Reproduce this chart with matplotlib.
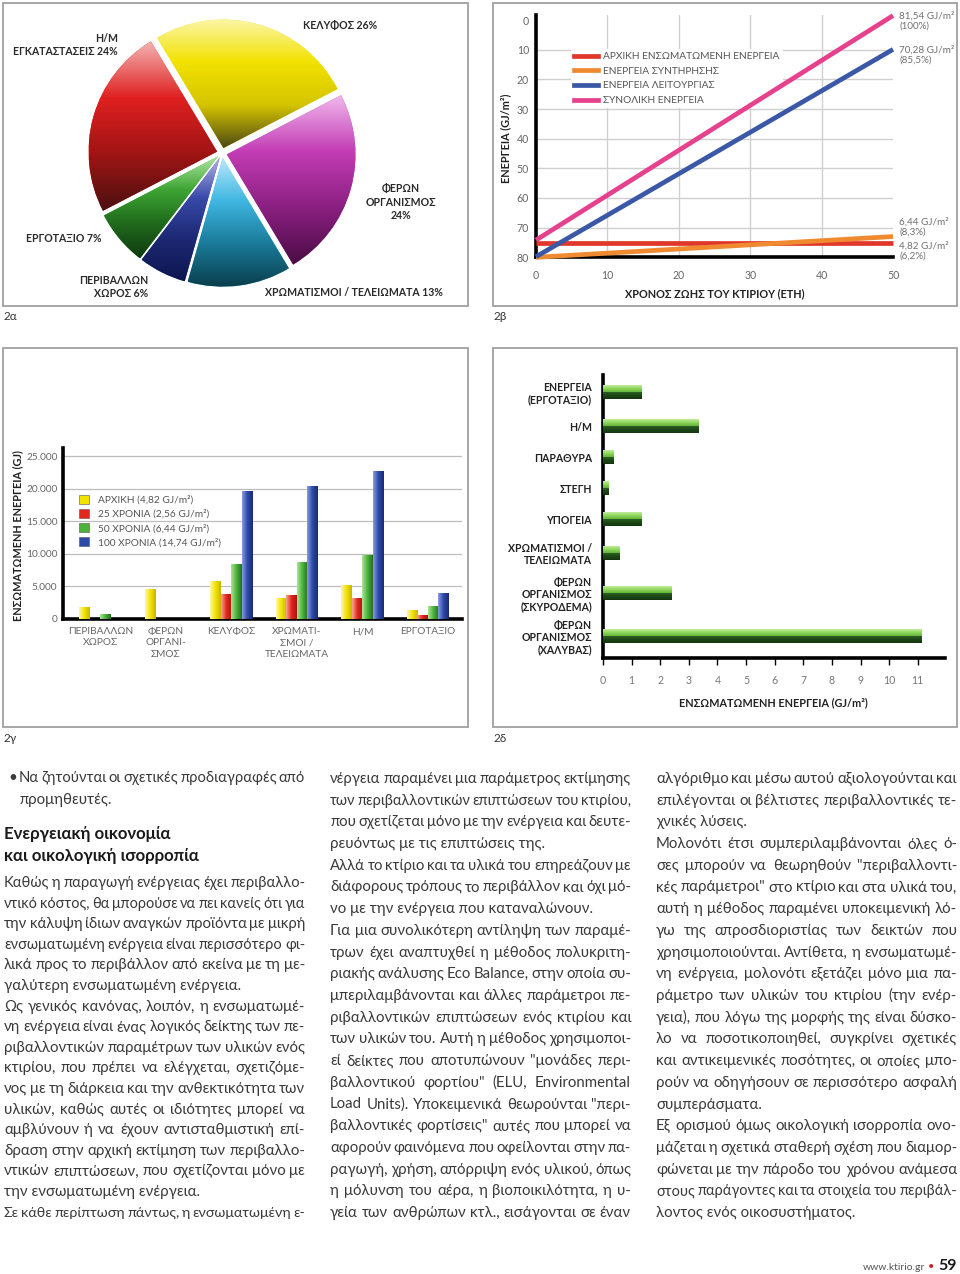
import numpy as np
import matplotlib
matplotlib.use('Agg')
import matplotlib.pyplot as plt
from matplotlib.colors import LinearSegmentedColormap
from matplotlib.patches import Rectangle, Patch
from matplotlib.lines import Line2D

FONTS = ['Lato', 'Noto Sans', 'DejaVu Sans']
plt.rcParams['font.family'] = FONTS
plt.rcParams['axes.unicode_minus'] = False

# ---------------- data ----------------
# 2α pie
pie_labels = ['ΚΕΛΥΦΟΣ 26%', 'ΦΕΡΩΝ\nΟΡΓΑΝΙΣΜΟΣ\n24%', 'ΧΡΩΜΑΤΙΣΜΟΙ / ΤΕΛΕΙΩΜΑΤΑ 13%',
              'ΠΕΡΙΒΑΛΛΩΝ\nΧΩΡΟΣ 6%', 'ΕΡΓΟΤΑΞΙΟ 7%', 'Η/Μ\nΕΓΚΑΤΑΣΤΑΣΕΙΣ 24%']
pie_values = [26, 24, 13, 6, 7, 24]

# 2β lines
years = [0, 50]
line_initial = [75.3, 75.3]
line_maint = [80.0, 73.0]
line_oper = [79.8, 9.9]
line_total = [74.2, -1.5]
line_names = ['ΑΡΧΙΚΗ ΕΝΣΩΜΑΤΩΜΕΝΗ ΕΝΕΡΓΕΙΑ', 'ΕΝΕΡΓΕΙΑ ΣΥΝΤΗΡΗΣΗΣ',
              'ΕΝΕΡΓΕΙΑ ΛΕΙΤΟΥΡΓΙΑΣ', 'ΣΥΝΟΛΙΚΗ ΕΝΕΡΓΕΙΑ']
end_labels = ['81,54 GJ/m²\n(100%)', '70,28 GJ/m²\n(85,5%)', '6,44 GJ/m²\n(8,3%)', '4,82 GJ/m²\n(6,2%)']

# 2γ grouped bars
cats_g = ['ΠΕΡΙΒΑΛΛΩΝ\nΧΩΡΟΣ', 'ΦΕΡΩΝ\nΟΡΓΑΝΙ-\nΣΜΟΣ', 'ΚΕΛΥΦΟΣ', 'ΧΡΩΜΑΤΙ-\nΣΜΟΙ /\nΤΕΛΕΙΩΜΑΤΑ',
          'Η/Μ', 'ΕΡΓΟΤΑΞΙΟ']
g_initial = [1800, 4600, 5900, 3200, 5150, 1370]
g_25 = [0, 0, 3870, 3670, 3260, 660]
g_50 = [760, 0, 8450, 8800, 9830, 1990]
g_100 = [0, 0, 19650, 20400, 22660, 3920]
g_names = ['ΑΡΧΙΚΗ (4,82 GJ/m²)', '25 ΧΡΟΝΙΑ (2,56 GJ/m²)', '50 ΧΡΟΝΙΑ (6,44 GJ/m²)',
           '100 ΧΡΟΝΙΑ (14,74 GJ/m²)']
g_ticks = [0, 5000, 10000, 15000, 20000, 25000]

# 2δ horizontal bars
cats_d = ['ΕΝΕΡΓΕΙΑ\n(ΕΡΓΟΤΑΞΙΟ)', 'Η/Μ', 'ΠΑΡΑΘΥΡΑ', 'ΣΤΕΓΗ', 'ΥΠΟΓΕΙΑ',
          'ΧΡΩΜΑΤΙΣΜΟΙ /\nΤΕΛΕΙΩΜΑΤΑ', 'ΦΕΡΩΝ\nΟΡΓΑΝΙΣΜΟΣ\n(ΣΚΥΡΟΔΕΜΑ)',
          'ΦΕΡΩΝ\nΟΡΓΑΝΙΣΜΟΣ\n(ΧΑΛΥΒΑΣ)']
vals_d = [1.34, 3.32, 0.37, 0.19, 1.34, 0.56, 2.41, 11.13]

# body text
bullet_lines = ['Να ζητούνται οι σχετικές προδιαγραφές από', 'προμηθευτές.']
heading_lines = ['Ενεργειακή οικονομία', 'και οικολογική ισορροπία']
col1 = [
    ('Καθώς η παραγωγή ενέργειας έχει περιβαλλο-', True),
    ('ντικό κόστος, θα μπορούσε να πει κανείς ότι για', True),
    ('την κάλυψη ίδιων αναγκών προϊόντα με μικρή', True),
    ('ενσωματωμένη ενέργεια είναι περισσότερο φι-', True),
    ('λικά προς το περιβάλλον από εκείνα με τη με-', True),
    ('γαλύτερη ενσωματωμένη ενέργεια.', False),
    ('Ως γενικός κανόνας, λοιπόν, η ενσωματωμέ-', True),
    ('νη ενέργεια είναι ένας λογικός δείκτης των πε-', True),
    ('ριβαλλοντικών παραμέτρων των υλικών ενός', True),
    ('κτιρίου, που πρέπει να ελέγχεται, σχετιζόμε-', True),
    ('νος με τη διάρκεια και την ανθεκτικότητα των', True),
    ('υλικών, καθώς αυτές οι ιδιότητες μπορεί να', True),
    ('αμβλύνουν ή να έχουν αντισταθμιστική επί-', True),
    ('δραση στην αρχική εκτίμηση των περιβαλλο-', True),
    ('ντικών επιπτώσεων, που σχετίζονται μόνο με', True),
    ('την ενσωματωμένη ενέργεια.', False),
    ('Σε κάθε περίπτωση πάντως, η ενσωματωμένη ε-', True),
]
col2 = [
    ('νέργεια παραμένει μια παράμετρος εκτίμησης', True),
    ('των περιβαλλοντικών επιπτώσεων του κτιρίου,', True),
    ('που σχετίζεται μόνο με την ενέργεια και δευτε-', True),
    ('ρευόντως με τις επιπτώσεις της.', False),
    ('Αλλά το κτίριο και τα υλικά του επηρεάζουν με', True),
    ('διάφορους τρόπους το περιβάλλον και όχι μό-', True),
    ('νο με την ενέργεια που καταναλώνουν.', False),
    ('Για μια συνολικότερη αντίληψη των παραμέ-', True),
    ('τρων έχει αναπτυχθεί η μέθοδος πολυκριτη-', True),
    ('ριακής ανάλυσης Eco Balance, στην οποία συ-', True),
    ('μπεριλαμβάνονται και άλλες παράμετροι πε-', True),
    ('ριβαλλοντικών επιπτώσεων ενός κτιρίου και', True),
    ('των υλικών του. Αυτή η μέθοδος χρησιμοποι-', True),
    ('εί δείκτες που αποτυπώνουν "μονάδες περι-', True),
    ('βαλλοντικού φορτίου" (ELU, Environmental', True),
    ('Load Units). Υποκειμενικά θεωρούνται "περι-', True),
    ('βαλλοντικές φορτίσεις" αυτές που μπορεί να', True),
    ('αφορούν φαινόμενα που οφείλονται στην πα-', True),
    ('ραγωγή, χρήση, απόρριψη ενός υλικού, όπως', True),
    ('η μόλυνση του αέρα, η βιοποικιλότητα, η υ-', True),
    ('γεία των ανθρώπων κτλ., εισάγονται σε έναν', True),
]
col3 = [
    ('αλγόριθμο και μέσω αυτού αξιολογούνται και', True),
    ('επιλέγονται οι βέλτιστες περιβαλλοντικές τε-', True),
    ('χνικές λύσεις.', False),
    ('Μολονότι έτσι συμπεριλαμβάνονται όλες ό-', True),
    ('σες μπορούν να θεωρηθούν "περιβαλλοντι-', True),
    ('κές παράμετροι" στο κτίριο και στα υλικά του,', True),
    ('αυτή η μέθοδος παραμένει υποκειμενική λό-', True),
    ('γω της απροσδιοριστίας των δεικτών που', True),
    ('χρησιμοποιούνται. Αντίθετα, η ενσωματωμέ-', True),
    ('νη ενέργεια, μολονότι εξετάζει μόνο μια πα-', True),
    ('ράμετρο των υλικών του κτιρίου (την ενέρ-', True),
    ('γεια), που λόγω της μορφής της είναι δύσκο-', True),
    ('λο να ποσοτικοποιηθεί, συγκρίνει σχετικές', True),
    ('και αντικειμενικές ποσότητες, οι οποίες μπο-', True),
    ('ρούν να οδηγήσουν σε περισσότερο ασφαλή', True),
    ('συμπεράσματα.', False),
    ('Εξ ορισμού όμως οικολογική ισορροπία ονο-', True),
    ('μάζεται η σχετικά σταθερή σχέση που διαμορ-', True),
    ('φώνεται με την πάροδο του χρόνου ανάμεσα', True),
    ('στους παράγοντες και τα στοιχεία του περιβάλ-', True),
    ('λοντος ενός οικοσυστήματος.', False),
]

# ---------------- figure ----------------
W, H = 960, 1274
fig = plt.figure(figsize=(W / 100, H / 100), dpi=100)
fig.patch.set_facecolor('white')
R = fig.canvas.get_renderer()

bg = fig.add_axes([0, 0, 1, 1])
bg.set_xlim(0, W)
bg.set_ylim(H, 0)
bg.axis('off')


def add_px_axes(x0, y0, x1, y1):
    return fig.add_axes([x0 / W, 1 - y1 / H, (x1 - x0) / W, (y1 - y0) / H])


def px_to_axes(box, x, y):
    x0, y0, x1, y1 = box
    return (x - x0) / (x1 - x0), (y1 - y) / (y1 - y0)


def gradient_fill(ax, patch, colors, vertical=False):
    bb = patch.get_path().get_extents(patch.get_patch_transform())
    if bb.width <= 0 or bb.height <= 0:
        return
    cmap = LinearSegmentedColormap.from_list('grad', colors)
    if vertical:
        arr = np.linspace(0, 1, 256).reshape(-1, 1)
    else:
        arr = np.linspace(0, 1, 256).reshape(1, -1)
    if ax.yaxis_inverted():
        ext = (bb.x0, bb.x1, bb.y1, bb.y0)
    else:
        ext = (bb.x0, bb.x1, bb.y0, bb.y1)
    im = ax.imshow(arr, cmap=cmap, extent=ext, origin='upper', aspect='auto',
                   interpolation='bilinear', zorder=patch.get_zorder() + 0.01)
    im.set_clip_path(patch)


# panel frames and captions
for (x0, y0, x1, y1) in [(3, 3, 468, 306), (493, 3, 957, 306), (3, 348, 468, 727), (493, 348, 957, 727)]:
    bg.add_patch(Rectangle((x0, y0), x1 - x0, y1 - y0, fill=False, edgecolor='#a0a0a0', lw=1.3))
for (x, y, s) in [(3, 316, '2α'), (493, 316, '2β'), (3, 739, '2γ'), (493, 739, '2δ')]:
    bg.text(x, y, s, fontsize=8.5, color='#333333', va='center', ha='left')

# ---------------- 2α pie ----------------
pie_colors = ['#f2e200', '#c23cb4', '#3fb6e2', '#2d3c9c', '#3ea534', '#d91e1e']
pie_grads = [
    ['#fbf6a8', '#f2e200', '#d4c400', '#4d4a14'],
    ['#f0b8ec', '#c23cb4', '#8a1f80', '#4a0c44'],
    ['#b8e8fa', '#3fb6e2', '#1a7a98', '#0a3e4c'],
    ['#b0b4e6', '#3848a8', '#1c2872', '#0e1650'],
    ['#b4e8a4', '#3ea534', '#1f6a1c', '#103a10'],
    ['#f4b4b4', '#e02020', '#a01414', '#4a1010'],
]
pcx, pcy, ph = 222, 153, 145
ax_pie = add_px_axes(pcx - ph, pcy - ph, pcx + ph, pcy + ph)
wedges, _ = ax_pie.pie(pie_values, colors=pie_colors, startangle=121, counterclock=False,
                       explode=[0.04] * len(pie_values), radius=1.02,
                       wedgeprops=dict(linewidth=0))
for w, g in zip(wedges, pie_grads):
    gradient_fill(ax_pie, w, g, vertical=True)
ax_pie.set_xlim(-1.15, 1.15)
ax_pie.set_ylim(-1.15, 1.15)
ax_pie.axis('off')

pie_label_pos = [(340, 25, 'center', 'center'), (401, 202, 'center', 'center'),
                 (265, 293, 'left', 'center'), (148, 287, 'right', 'right'),
                 (26, 238, 'left', 'left'), (118, 45, 'right', 'right')]
for lab, (x, y, ha, ma) in zip(pie_labels, pie_label_pos):
    bg.text(x, y, lab, fontsize=7.6, fontweight='bold', color='#2a2a2a', ha=ha, va='center',
            multialignment=ma, linespacing=1.3)

# ---------------- 2β lines ----------------
box_l = (536, 15, 893, 257.3)
ax_l = add_px_axes(*box_l)
line_colors = ['#e0372a', '#f08a30', '#3b58a6', '#e6418c']
for vals, c in zip([line_initial, line_maint, line_oper, line_total], line_colors):
    ax_l.plot(years, vals, color=c, lw=3.4, solid_capstyle='butt', zorder=3, clip_on=False)
ax_l.set_xlim(0, 50)
ax_l.set_ylim(80, -1.7)
ax_l.set_xticks(range(0, 51, 10))
ax_l.set_yticks(range(0, 81, 10))
ax_l.grid(True, color='#d0d0d0', lw=1.0)
xg = ax_l.get_xgridlines()
xg[0].set_visible(False); xg[-1].set_visible(False)
yg = ax_l.get_ygridlines()
yg[0].set_visible(False); yg[-1].set_visible(False)
ax_l.set_axisbelow(True)
for s in ['top', 'right']:
    ax_l.spines[s].set_visible(False)
for s in ['left', 'bottom']:
    ax_l.spines[s].set_linewidth(2.6)
    ax_l.spines[s].set_color('black')
ax_l.tick_params(length=0, labelsize=7.6, labelcolor='#666666', pad=5)
ax_l.tick_params(axis='x', pad=9)
ax_l.set_xlabel('ΧΡΟΝΟΣ ΖΩΗΣ ΤΟΥ ΚΤΙΡΙΟΥ (ΕΤΗ)', fontsize=7.8, fontweight='bold', color='#222222')
ax_l.xaxis.set_label_coords(*px_to_axes(box_l, 715, 288))
ax_l.set_ylabel('ΕΝΕΡΓΕΙΑ (GJ/m²)', fontsize=7.8, fontweight='bold', color='#222222')
ax_l.yaxis.set_label_coords(*px_to_axes(box_l, 511, 138))
handles = [Line2D([0], [0], color=c, lw=3.4) for c in line_colors]
leg = ax_l.legend(handles, line_names, loc='upper left', bbox_to_anchor=(571 / W, 1 - 49 / H),
                  bbox_transform=fig.transFigure, frameon=True, fontsize=7.3, handlelength=2.4,
                  labelspacing=0.55, handletextpad=0.5, borderpad=0.3, borderaxespad=0)
leg.get_frame().set_facecolor('white')
leg.get_frame().set_edgecolor('none')
leg.get_frame().set_alpha(1)
leg.set_zorder(2)
for t in leg.get_texts():
    t.set_color('#555555')
for lab, y in zip(end_labels, [21, 55, 227, 251]):
    bg.text(899, y, lab, fontsize=7.1, color='#707070', ha='left', va='center', linespacing=1.05)

# ---------------- 2γ grouped bars ----------------
box_b = (63, 448, 462, 619)
ax_b = add_px_axes(*box_b)
x = np.arange(len(cats_g))
bw = 0.16
g_colors = ['#f3e300', '#e2261c', '#4bb33a', '#2c4aa8']
g_grads = [['#fdf8b0', '#f3e300', '#c6b400'], ['#f8a898', '#e2261c', '#a81510'],
           ['#b0e498', '#4bb33a', '#236e1e'], ['#8c9ce0', '#2c4aa8', '#1a2a70']]
for k, (vals, c, g) in enumerate(zip([g_initial, g_25, g_50, g_100], g_colors, g_grads)):
    bars = ax_b.bar(x + (k - 1.5) * bw, vals, width=bw, color=c, zorder=3, linewidth=0)
    for b in bars:
        if b.get_height() > 0:
            gradient_fill(ax_b, b, g)
ax_b.set_xlim(-0.57, 5.52)
ax_b.set_ylim(0, 26230)
ax_b.set_yticks(g_ticks)
ax_b.set_yticklabels([f'{v:,}'.replace(',', '.') for v in g_ticks])
ax_b.set_xticks(x)
ax_b.set_xticklabels(cats_g, linespacing=1.3)
ax_b.yaxis.grid(True, color='#bdbdbd', lw=0.9)
ax_b.set_axisbelow(True)
for s in ['top', 'right']:
    ax_b.spines[s].set_visible(False)
for s in ['left', 'bottom']:
    ax_b.spines[s].set_linewidth(2.6)
    ax_b.spines[s].set_color('black')
ax_b.tick_params(length=0, labelsize=7.3, labelcolor='#666666', pad=4)
ax_b.tick_params(axis='x', pad=6)
ax_b.set_ylabel('ΕΝΣΩΜΑΤΩΜΕΝΗ ΕΝΕΡΓΕΙΑ (GJ)', fontsize=7.8, fontweight='bold', color='#222222')
ax_b.yaxis.set_label_coords(*px_to_axes(box_b, 23, 536))
ghandles = [Patch(facecolor=c, edgecolor='#555555', linewidth=0.4) for c in g_colors]
leg2 = ax_b.legend(ghandles, g_names, loc='upper left', bbox_to_anchor=(79 / W, 1 - 495 / H),
                   bbox_transform=fig.transFigure, frameon=False, fontsize=7.3, handlelength=1.0,
                   handleheight=1.0, labelspacing=0.4, handletextpad=0.9, borderpad=0, borderaxespad=0)
for t in leg2.get_texts():
    t.set_color('#555555')

# ---------------- 2δ horizontal bars ----------------
box_h = (603, 375, 945, 658)
ax_h = add_px_axes(*box_h)
# category slots spaced by the number of label lines (layout only, 1 unit = 1 px)
nl = [c.count('\n') + 1 for c in cats_d]
gaps = [25 + 6 * (nl[i] + nl[i + 1]) / 2 for i in range(len(nl) - 1)]
yp = np.concatenate([[0.0], np.cumsum(gaps)])
y_top = -17
y_bot = y_top + (box_h[3] - box_h[1])
bh = 14.0
top_bars = ax_h.barh(yp - bh / 4, vals_d, height=bh / 2, color='#86cf55', linewidth=0, zorder=3)
bot_bars = ax_h.barh(yp + bh / 4, vals_d, height=bh / 2, color='#1f4d19', linewidth=0, zorder=3)
ax_h.set_ylim(y_bot, y_top)
for b in top_bars:
    gradient_fill(ax_h, b, ['#c4eca0', '#8ed65a', '#62b53a'], vertical=True)
for b in bot_bars:
    gradient_fill(ax_h, b, ['#2c5e22', '#1c4616', '#14360f'], vertical=True)
ax_h.set_xlim(0, 11.95)
ax_h.set_ylim(y_bot, y_top)
ax_h.set_xticks(range(0, 12))
ax_h.set_yticks(yp)
ax_h.set_yticklabels(cats_d, fontweight='bold', linespacing=1.15)
for s in ['top', 'right']:
    ax_h.spines[s].set_visible(False)
for s in ['left', 'bottom']:
    ax_h.spines[s].set_linewidth(2.6)
    ax_h.spines[s].set_color('black')
ax_h.tick_params(axis='x', length=5, width=1, direction='out', color='black',
                 labelsize=7.6, labelcolor='#777777', pad=7)
ax_h.tick_params(axis='y', length=0, labelsize=7.6, labelcolor='#222222', pad=8)
ax_h.set_xlabel('ΕΝΣΩΜΑΤΩΜΕΝΗ ΕΝΕΡΓΕΙΑ (GJ/m²)', fontsize=7.8, fontweight='bold', color='#222222')
ax_h.xaxis.set_label_coords(*px_to_axes(box_h, 773, 697))

# ---------------- body text ----------------
TXT = '#3a3a3a'
_cache = {}


def word_width(s, fs, weight='normal'):
    key = (s, round(fs, 3), weight)
    if key not in _cache:
        t = bg.text(0, 0, s, fontsize=fs, fontweight=weight)
        _cache[key] = t.get_window_extent(renderer=R).width
        t.remove()
    return _cache[key]


def pt2px(v):
    return v * 100 / 72


cols = [(col1, 4, 305), (col2, 330, 631), (col3, 656, 957)]
ratios = []
for lines, x0, x1 in cols:
    for s, j in lines:
        if not j:
            continue
        words = s.split(' ')
        nat = sum(word_width(w, 10) for w in words) + (len(words) - 1) * pt2px(10 * 0.2)
        ratios.append((x1 - x0) / nat)
FS = min(10 * float(np.percentile(ratios, 35)), 11.5)
MIN_GAP = 0.16


def draw_line(s, x0, x1, y, justify, fs=FS, weight='normal', color=TXT):
    words = s.split(' ')
    if not justify or len(words) == 1:
        bg.text(x0, y, s, fontsize=fs, fontweight=weight, color=color, ha='left', va='baseline')
        return
    f = fs
    widths = [word_width(w, f, weight) for w in words]
    need = sum(widths) + (len(words) - 1) * pt2px(f * MIN_GAP)
    if need > x1 - x0:
        f = fs * (x1 - x0) / need
        widths = [word_width(w, f, weight) for w in words]
    gap = (x1 - x0 - sum(widths)) / (len(words) - 1)
    xx = x0
    for w, wd in zip(words, widths):
        bg.text(xx, y, w, fontsize=f, fontweight=weight, color=color, ha='left', va='baseline')
        xx += wd + gap


BASE = 5
# bullet
bg.text(8, 777 + BASE, '•', fontsize=FS, color=TXT, ha='left', va='baseline')
draw_line(bullet_lines[0], 19, 305, 777 + BASE, True)
draw_line(bullet_lines[1], 19, 305, 799 + BASE, False)
# heading (fit width)
hw = word_width(heading_lines[1], 10, 'bold')
HFS = 10 * 196 / hw
for s, y in zip(heading_lines, [833, 855]):
    bg.text(4, y + 6, s, fontsize=HFS, fontweight='bold', color='#1a1a1a', ha='left', va='baseline')

for i, (s, j) in enumerate(col1):
    draw_line(s, 4, 305, 882 + i * 20.6 + BASE, j)
for lines, x0, x1 in cols[1:]:
    step = (1212 - 778) / (len(lines) - 1)
    for i, (s, j) in enumerate(lines):
        draw_line(s, x0, x1, 778 + i * step + BASE, j)

# footer
bg.text(925, 1270, 'www.ktirio.gr', fontsize=7.5, color='#555555', ha='right', va='baseline')
bg.text(931, 1270, '•', fontsize=8, color='#d0202a', ha='center', va='baseline')
bg.text(957, 1270, '59', fontsize=11.5, fontweight='bold', color='#1a1a1a', ha='right', va='baseline')

fig.savefig('out.png', dpi=100, facecolor='white')
